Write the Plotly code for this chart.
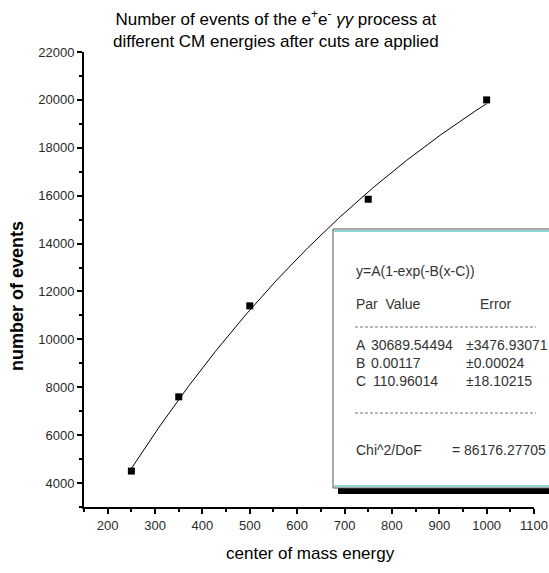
import numpy as np
import plotly.graph_objects as go

# Measured event counts at each centre-of-mass energy
energy = [250, 350, 500, 750, 1000]
events = [4500, 7600, 11400, 15850, 20000]

# Fit parameters for y = A(1 - exp(-B(x - C)))
FIT_A = 30689.54494
FIT_B = 0.00117
FIT_C = 110.96014

fit_x = np.linspace(min(energy), max(energy), 200)
fit_y = FIT_A * (1 - np.exp(-FIT_B * (fit_x - FIT_C)))

x_ticks = list(range(200, 1101, 100))
y_ticks = list(range(4000, 22001, 2000))
x_labels = [str(v) for v in x_ticks]
y_labels = [str(v) for v in y_ticks]

FONT = "Liberation Sans, Arial, sans-serif"
TICK_COLOR = "#2a2a2a"

fig = go.Figure()
fig.add_trace(go.Scatter(x=fit_x, y=fit_y, mode="lines",
                         line=dict(color="black", width=1), hoverinfo="skip"))
fig.add_trace(go.Scatter(x=energy, y=events, mode="markers",
                         marker=dict(symbol="square", size=7, color="black")))

axis_common = dict(
    showgrid=False, zeroline=False, showline=True, linecolor="black", linewidth=2,
    ticks="outside", ticklen=5, tickwidth=2, tickcolor="black",
    tickfont=dict(family=FONT, size=13, color=TICK_COLOR),
    mirror=False, automargin=False,
)

fig.update_layout(
    width=549, height=573,
    margin=dict(l=84, r=15, t=52, b=66),
    paper_bgcolor="white", plot_bgcolor="white",
    showlegend=False,
    xaxis=dict(range=[150, 1100], tickvals=x_ticks, ticktext=x_labels,
               minor=dict(dtick=50, tick0=150, ticks="outside", ticklen=3,
                          tickwidth=2, tickcolor="black"),
               **axis_common),
    yaxis=dict(range=[3000, 22000], tickvals=y_ticks, ticktext=y_labels,
               minor=dict(dtick=1000, tick0=3000, ticks="outside", ticklen=3,
                          tickwidth=2, tickcolor="black"),
               **axis_common),
)


def px(xp):
    return (xp - 84) / 450


def py(yp):
    return (507 - yp) / 455


# Title (two lines, centred on the page)
fig.add_annotation(
    text="Number of events of the e<sup>+</sup>e<sup>-</sup> <i>γγ</i> process at<br>"
         "different CM energies after cuts are applied",
    xref="paper", yref="paper", x=px(276), y=py(5),
    xanchor="center", yanchor="top", showarrow=False, align="center",
    font=dict(family=FONT, size=17, color="black"),
)

# Axis titles
fig.add_annotation(
    text="<b>number of events</b>", textangle=-90,
    xref="paper", yref="paper", x=px(17), y=py(296),
    xanchor="center", yanchor="middle", showarrow=False,
    font=dict(family=FONT, size=18, color="black"),
)
fig.add_annotation(
    text="center of mass energy",
    xref="paper", yref="paper", x=px(310), y=py(553),
    xanchor="center", yanchor="middle", showarrow=False,
    font=dict(family=FONT, size=17, color="black"),
)

# Fit-result box with drop shadow
fig.add_shape(type="rect", xref="paper", yref="paper",
              x0=px(338), x1=px(560), y0=py(494), y1=py(487),
              fillcolor="black", line=dict(width=0), layer="above")
fig.add_shape(type="rect", xref="paper", yref="paper",
              x0=px(333), x1=px(560), y0=py(488), y1=py(229),
              fillcolor="white", line=dict(color="#555555", width=1), layer="above")
for yl in (231, 486):
    fig.add_shape(type="line", xref="paper", yref="paper",
                  x0=px(334), x1=px(560), y0=py(yl), y1=py(yl),
                  line=dict(color="#8fd3d3", width=2), layer="above")

BOX_FONT = dict(family=FONT, size=14, color="#333333")
box_text = [
    (354, 271, "y=A(1-exp(-B(x-C))"),
    (354, 304, "Par  Value"),
    (478, 304, "Error"),
    (354, 345, "A"),
    (369, 345, "30689.54494"),
    (464, 345, "±3476.93071"),
    (354, 363, "B"),
    (369, 363, "0.00117"),
    (464, 363, "±0.00024"),
    (354, 381, "C"),
    (371, 381, "110.96014"),
    (464, 381, "±18.10215"),
    (354, 450, "Chi^2/DoF"),
    (450, 450, "= 86176.27705"),
]
for xp_, yp_, t in box_text:
    fig.add_annotation(text=t, xref="paper", yref="paper", x=px(xp_), y=py(yp_),
                       xanchor="left", yanchor="middle", showarrow=False,
                       font=BOX_FONT)

# Dashed separator rules inside the box
for yl in (327, 413):
    fig.add_shape(type="line", xref="paper", yref="paper",
                  x0=px(355), x1=px(536), y0=py(yl), y1=py(yl),
                  line=dict(color="#777777", width=1, dash="3px,2px"), layer="above")

fig.write_html("out.html")
